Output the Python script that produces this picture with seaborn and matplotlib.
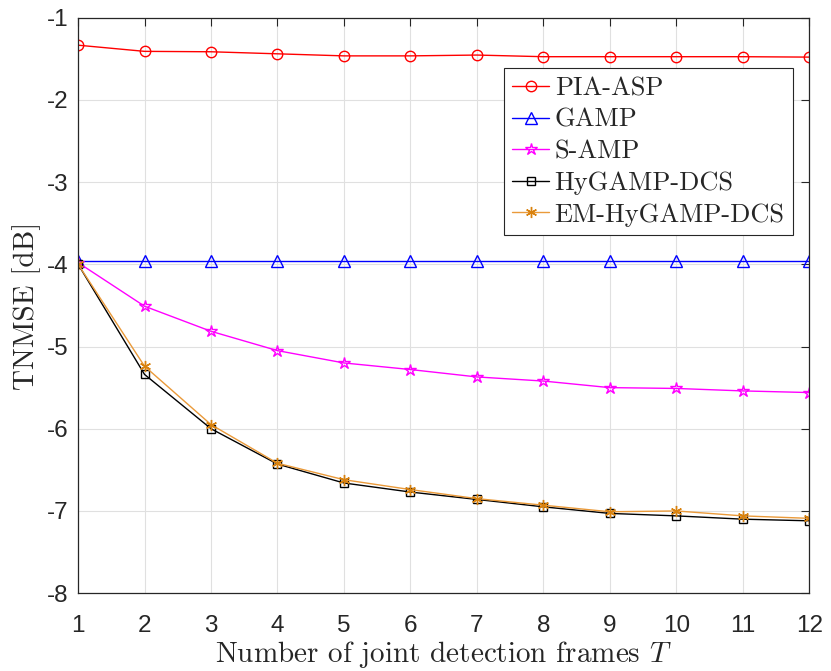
import matplotlib
matplotlib.use("Agg")
import matplotlib.pyplot as plt
import pandas as pd
import seaborn as sns

frames = list(range(1, 13))
pia_asp = [-1.335, -1.41, -1.415, -1.44, -1.465, -1.465, -1.455, -1.475, -1.475, -1.475, -1.475, -1.48]
gamp = [-3.96] * 12
s_amp = [-3.98, -4.51, -4.815, -5.05, -5.20, -5.28, -5.37, -5.42, -5.50, -5.51, -5.54, -5.56]
hygamp_dcs = [-4.0, -5.34, -6.0, -6.43, -6.66, -6.77, -6.86, -6.95, -7.03, -7.06, -7.10, -7.12]
em_hygamp_dcs = [-4.0, -5.24, -5.95, -6.42, -6.62, -6.74, -6.85, -6.93, -7.01, -7.00, -7.06, -7.09]

series_names = ["PIA-ASP", "GAMP", "S-AMP", "HyGAMP-DCS", "EM-HyGAMP-DCS"]
series_values = [pia_asp, gamp, s_amp, hygamp_dcs, em_hygamp_dcs]

# MATLAB-ish line/marker styles
styles = {
    "PIA-ASP": dict(color="#FF0000", edge="#FF0000", marker="o", ms=7.5),
    "GAMP": dict(color="#0000FF", edge="#0000FF", marker="^", ms=8),
    "S-AMP": dict(color="#FF00FF", edge="#FF00FF", marker="*", ms=9),
    "HyGAMP-DCS": dict(color="#000000", edge="#000000", marker="s", ms=6),
    "EM-HyGAMP-DCS": dict(color="#EA9A3A", edge="#D9820E", marker=(6, 2, 0), ms=8),
}

sns.set_style("white")
plt.rcParams["font.family"] = ["Liberation Sans", "DejaVu Sans"]
plt.rcParams["mathtext.fontset"] = "cm"
plt.rcParams["axes.unicode_minus"] = False

fig = plt.figure(figsize=(8.31, 6.71), dpi=100)
ax = fig.add_axes([0.094, 0.116, 0.8797, 0.8577])

for name, vals in zip(series_names, series_values):
    st = styles[name]
    df = pd.DataFrame({"T": frames, "v": vals})
    sns.lineplot(
        data=df, x="T", y="v", ax=ax, label=name, color=st["color"],
        marker=st["marker"], markersize=st["ms"], markerfacecolor="none",
        markeredgecolor=st["edge"], markeredgewidth=1.0, linewidth=1.0,
    )

ax.set_xlim(1, 12)
ax.set_ylim(-8, -1)
ax.set_xticks(frames)
ax.set_yticks(range(-8, 0))
ax.grid(True, color="#E0E0E0", linewidth=0.8)
ax.tick_params(direction="in", top=True, right=True, length=6, width=0.8,
               labelsize=17.5, colors="#262626", pad=7)
ax.tick_params(axis="x", pad=15.5)
for sp in ax.spines.values():
    sp.set_color("#262626")
    sp.set_linewidth(0.9)

ax.set_xlabel(r"Number of joint detection frames $T$", fontsize=21,
              fontfamily="cmr10", labelpad=1.5)
ax.set_ylabel("TNMSE [dB]", fontsize=21, fontfamily="cmr10", labelpad=4)

leg = ax.legend(loc="upper right", bbox_to_anchor=(0.978, 0.9126),
                prop={"family": "cmr10", "size": 19}, frameon=True,
                fancybox=False, edgecolor="#262626", framealpha=1,
                borderaxespad=0, handlelength=1.4, labelspacing=0.3,
                borderpad=0.32, handletextpad=0.2)
leg.get_frame().set_linewidth(0.8)

fig.savefig("out.png", dpi=100)
